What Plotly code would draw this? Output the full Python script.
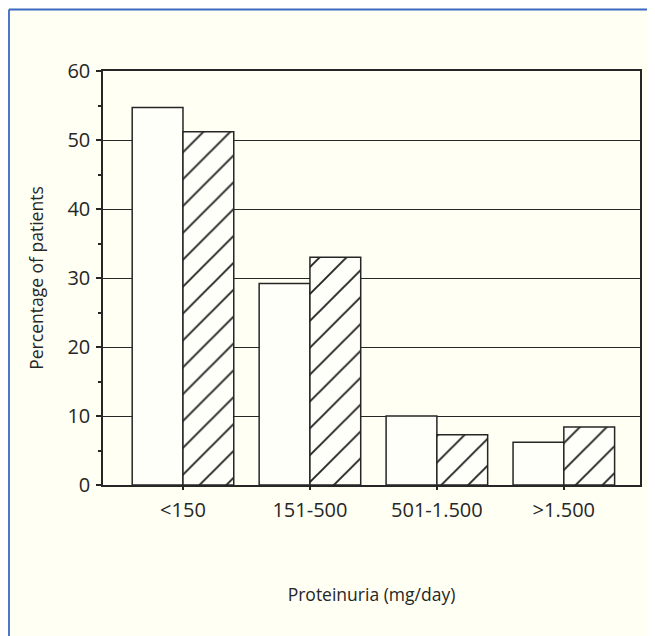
import plotly.graph_objects as go

categories = ["<150", "151-500", "501-1.500", ">1.500"]
series_open = [54.7, 29.2, 10.0, 6.2]
series_hatched = [51.2, 33.0, 7.3, 8.4]
y_ticks = [0, 10, 20, 30, 40, 50, 60]

# page has an 8px body margin, so the figure is sized to fill the rest
OFF = 8
W, H = 655 - OFF, 636 - OFF
L, T = 103 - OFF, 71 - OFF
pw, ph = 537, 414
R = W - L - pw
B = H - T - ph

bg = "#FFFFF4"
ink = "#262626"
font_family = "Open Sans, Noto Sans, DejaVu Sans, sans-serif"

fig = go.Figure()
fig.add_trace(go.Bar(
    x=categories, y=series_open, name="open",
    marker=dict(color="#FFFFFA", line=dict(color=ink, width=1.5)),
    showlegend=False,
))
fig.add_trace(go.Bar(
    x=categories, y=series_hatched, name="hatched",
    marker=dict(color="#FFFFFA", line=dict(color=ink, width=1.5),
                pattern=dict(shape="/", size=19, solidity=0.1,
                             fgcolor="#222222", bgcolor="#FFFFFA", fillmode="replace")),
    showlegend=False,
))

def px_x(p):
    return (p - L) / pw

def px_y(p):
    return (H - B - p) / ph

border = "#3a68c4"
shapes = [
    dict(type="line", xref="paper", yref="paper", x0=px_x(1), x1=px_x(W + 5),
         y0=px_y(1.5), y1=px_y(1.5), line=dict(color=border, width=1.8)),
    dict(type="line", xref="paper", yref="paper", x0=px_x(1), x1=px_x(1),
         y0=px_y(1.5), y1=px_y(H + 5), line=dict(color=border, width=1.8)),
]

fig.update_layout(
    width=W, height=H, autosize=False,
    margin=dict(l=L, r=R, t=T, b=B),
    paper_bgcolor=bg, plot_bgcolor=bg,
    barmode="group", bargap=0.2, bargroupgap=0,
    font=dict(family=font_family, color=ink, size=20),
    shapes=shapes,
)
fig.update_xaxes(
    range=[-0.63, 3.6], showline=True, mirror=True, linecolor=ink, linewidth=1.5,
    ticks="outside", ticklen=3, tickwidth=2, tickcolor=ink,
    ticklabelstandoff=3, showgrid=False, zeroline=False,
    title=dict(text="Proteinuria (mg/day)", font=dict(size=17.5), standoff=67),
)
fig.update_yaxes(
    range=[0, 60], tickvals=y_ticks, showline=True, mirror=True,
    linecolor=ink, linewidth=1.5,
    ticks="outside", ticklen=5, tickwidth=1.5, tickcolor=ink,
    ticklabelstandoff=2,
    minor=dict(ticks="outside", ticklen=3, dtick=5, tickcolor=ink, showgrid=False),
    showgrid=True, gridcolor=ink, gridwidth=1.3, zeroline=False,
    title=dict(text="Percentage of patients", font=dict(size=17.5), standoff=19),
)

fig.write_html("out.html")
